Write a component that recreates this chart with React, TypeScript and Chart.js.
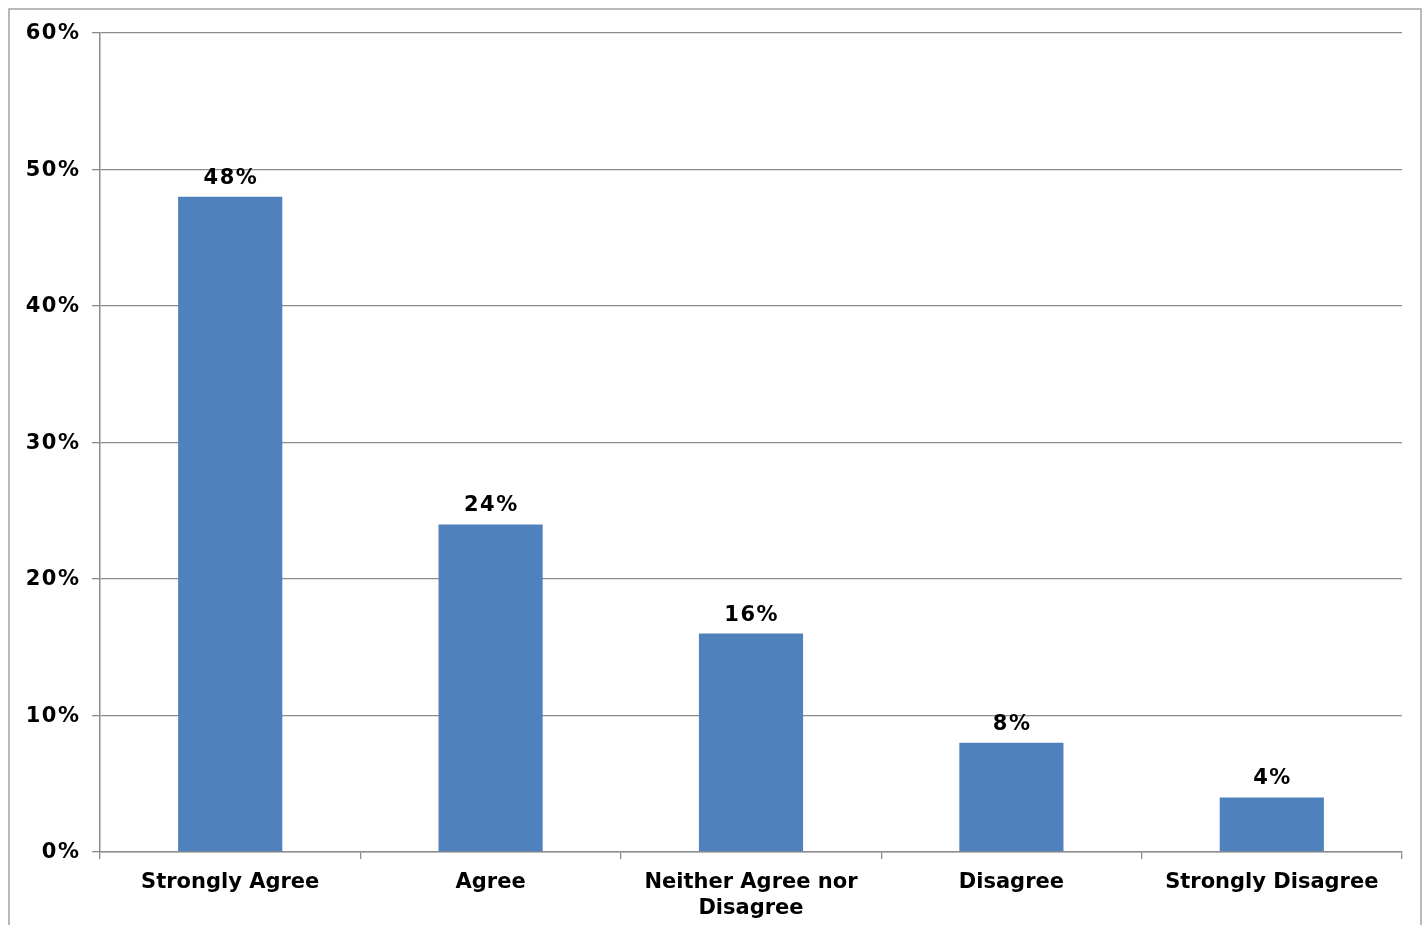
import React, { useEffect, useRef } from "react";
import { Chart, registerables } from "chart.js";

Chart.register(...registerables);

const categories: (string | string[])[] = [
  "Strongly Agree",
  "Agree",
  ["Neither Agree nor", "Disagree"],
  "Disagree",
  "Strongly Disagree",
];
const values = [48, 24, 16, 8, 4];
const valueLabels = ["48%", "24%", "16%", "8%", "4%"];
const yTicks = [0, 10, 20, 30, 40, 50, 60];

const FONT = "'DejaVu Sans', Verdana, sans-serif";

const outerBorder = {
  id: "outerBorder",
  beforeDraw(chart: any) {
    const ctx = chart.ctx;
    ctx.save();
    ctx.fillStyle = "#ffffff";
    ctx.fillRect(0, 0, chart.width, chart.height);
    ctx.strokeStyle = "#a3a3a3";
    ctx.lineWidth = 1.5;
    ctx.strokeRect(9, 9, 1412, 1000);
    ctx.restore();
  },
};

function drawSpaced(ctx: any, text: string, rightOrCenter: number, y: number, align: "right" | "center") {
  const w = ctx.measureText(text).width;
  const x = align === "right" ? rightOrCenter - w : rightOrCenter - w / 2;
  ctx.textAlign = "left";
  ctx.fillText(text, x + (align === "center" ? 0.75 : 1.5), y);
}

const percentLabelPlugin = {
  id: "percentLabels",
  afterDatasetsDraw(chart: any) {
    const ctx = chart.ctx;
    ctx.save();
    ctx.font = `bold 21px ${FONT}`;
    ctx.fillStyle = "#000000";
    (ctx as any).letterSpacing = "1.5px";
    ctx.textBaseline = "middle";
    const yScale = chart.scales.y;
    yTicks.forEach((v) => {
      drawSpaced(ctx, `${v}%`, 79, yScale.getPixelForValue(v) + 1, "right");
    });
    ctx.textBaseline = "alphabetic";
    const meta = chart.getDatasetMeta(0);
    meta.data.forEach((bar: any, i: number) => {
      drawSpaced(ctx, valueLabels[i], bar.x, bar.y - 13, "center");
    });
    ctx.restore();
  },
};

export default function App() {
  const ref = useRef<HTMLCanvasElement | null>(null);
  useEffect(() => {
    if (!ref.current) return;
    const chart = new Chart(ref.current, {
      type: "bar",
      data: {
        labels: categories,
        datasets: [
          {
            data: values,
            backgroundColor: "#4f81bd",
            borderWidth: 0,
            categoryPercentage: 1,
            barPercentage: 0.4,
          },
        ],
      },
      options: {
        animation: false,
        responsive: false,
        maintainAspectRatio: false,
        layout: { padding: { top: 33, right: 26, bottom: 0, left: 0 } },
        plugins: {
          legend: { display: false },
          tooltip: { enabled: false },
        },
        scales: {
          x: {
            grid: {
              offset: true,
              drawOnChartArea: false,
              drawTicks: true,
              tickLength: 7,
              color: "#8c8c8c",
              lineWidth: 1.3,
            },
            border: { display: true, color: "#8c8c8c", width: 1.5 },
            ticks: {
              color: "#000000",
              font: { family: FONT, size: 21, weight: "bold", lineHeight: 1.25 },
              padding: 10,
              maxRotation: 0,
              autoSkip: false,
            },
            afterFit(scale: any) {
              scale.height = 73;
            },
          },
          y: {
            min: 0,
            max: 60,
            afterBuildTicks(scale: any) {
              scale.ticks = yTicks.map((v) => ({ value: v }));
            },
            grid: {
              color: "#8c8c8c",
              lineWidth: 1.3,
              tickLength: 8,
            },
            border: { display: true, color: "#8c8c8c", width: 1.5 },
            ticks: {
              display: false,
            },
            afterFit(scale: any) {
              scale.width = 100;
            },
          },
        },
      },
      plugins: [outerBorder, percentLabelPlugin],
    });
    return () => chart.destroy();
  }, []);
  return (
    <div style={{ position: "absolute", left: 0, top: 0, width: 1428, height: 925 }}>
      <canvas ref={ref} width={1428} height={925} style={{ display: "block" }} />
    </div>
  );
}
